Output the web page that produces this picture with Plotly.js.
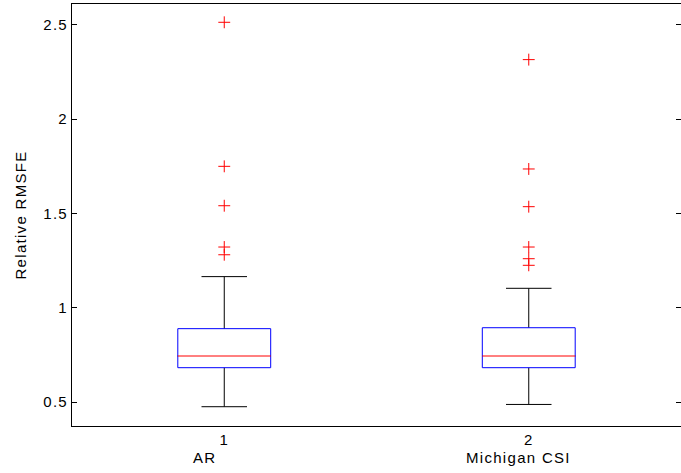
<!DOCTYPE html>
<html>
<head>
<meta charset="utf-8">
<script src="https://cdn.plot.ly/plotly-3.0.1.min.js"></script>
<style>
html,body{margin:0;padding:0;background:#fff;overflow:hidden}
#chart{width:681px;height:473px}
text{letter-spacing:1.3px}
</style>
</head>
<body>
<div id="chart"></div>
<script>
// ---- data ----
var positions = [1, 2];
var categories = ["AR", "Michigan CSI"];
var q1 = [0.682, 0.682];
var medians = [0.744, 0.744];
var q3 = [0.889, 0.894];
var lowerWhisker = [0.475, 0.487];
var upperWhisker = [1.165, 1.103];
var outliersAR = [2.514, 1.750, 1.541, 1.322, 1.281];
var outliersCSI = [2.316, 1.736, 1.536, 1.322, 1.260, 1.225];
var yTicks = [0.5, 1, 1.5, 2, 2.5];
var yTickText = ["0.5", "1", "1.5", "2", "2.5"];

// ---- style ----
var FONT = "Arial, 'Liberation Sans', sans-serif";
var FS = 15;
var BOXW = 0.305;
var labelShift = [-20, -10];

var outlierX = [], outlierY = [];
[outliersAR, outliersCSI].forEach(function (arr, i) {
  arr.forEach(function (v) { outlierX.push(positions[i]); outlierY.push(v); });
});

// box outlines and medians built from the quartile arrays
var boxX = [], boxY = [], medX = [], medY = [];
positions.forEach(function (p, i) {
  var a = p - BOXW / 2, b = p + BOXW / 2;
  boxX.push(a, b, b, a, a, null);
  boxY.push(q1[i], q1[i], q3[i], q3[i], q1[i], null);
  medX.push(a, b, null);
  medY.push(medians[i], medians[i], null);
});

var traces = [
  { // whiskers (black) - box collapsed at the median, body hidden under the blue box
    type: "box", x: positions, q1: medians, median: medians, q3: medians,
    lowerfence: lowerWhisker, upperfence: upperWhisker,
    width: BOXW, whiskerwidth: 0.49, boxpoints: false,
    line: { color: "#000000", width: 1 }, fillcolor: "rgba(0,0,0,0)",
    hoverinfo: "skip", showlegend: false
  },
  { // boxes (blue, white inside)
    type: "scatter", mode: "lines", x: boxX, y: boxY, fill: "toself",
    fillcolor: "#ffffff", line: { color: "#0000ff", width: 1 },
    hoverinfo: "skip", showlegend: false
  },
  { // medians (red)
    type: "scatter", mode: "lines", x: medX, y: medY,
    line: { color: "#ff0000", width: 1 }, hoverinfo: "skip", showlegend: false
  },
  { // outliers
    type: "scatter", mode: "markers", x: outlierX, y: outlierY,
    marker: { symbol: "cross-thin", size: 8.5, color: "#ff0000", line: { color: "#ff0000", width: 1 } },
    hoverinfo: "skip", showlegend: false
  },
  { // invisible trace for the right-hand ticks
    type: "scatter", mode: "markers", x: [positions[0]], y: [medians[0]], yaxis: "y2",
    marker: { opacity: 0 }, hoverinfo: "skip", showlegend: false
  }
];

var yRange = [0.3727, 2.611];

var annotations = categories.map(function (c, i) {
  return {
    text: c, x: positions[i], xref: "x", y: 0, yref: "paper",
    yanchor: "top", xanchor: "center", yshift: -21, xshift: labelShift[i],
    showarrow: false, font: { family: FONT, size: FS, color: "#000" }
  };
});

var layout = {
  width: 681, height: 473,
  margin: { l: 72, r: 0, t: 4, b: 47, pad: 0 },
  paper_bgcolor: "#fff", plot_bgcolor: "#fff",
  font: { family: FONT, size: FS, color: "#000" },
  xaxis: {
    range: [0.5, 2.5], tickvals: positions, ticktext: ["1", "2"],
    ticks: "", showgrid: false, zeroline: false,
    showline: true, mirror: true, linecolor: "#000", linewidth: 1,
    tickfont: { family: FONT, size: FS, color: "#000" }
  },
  yaxis: {
    range: yRange, tickvals: yTicks, ticktext: yTickText,
    ticks: "inside", ticklen: 5, tickcolor: "#000", tickwidth: 1,
    showgrid: false, zeroline: false,
    showline: true, mirror: false, linecolor: "#000", linewidth: 1,
    tickfont: { family: FONT, size: FS, color: "#000" },
    title: { text: "Relative RMSFE", font: { family: FONT, size: FS, color: "#000" }, standoff: 12 }
  },
  yaxis2: {
    overlaying: "y", side: "right", range: yRange, tickvals: yTicks,
    showticklabels: false, ticks: "inside", ticklen: 5, tickcolor: "#000", tickwidth: 1,
    showgrid: false, zeroline: false, showline: false
  },
  annotations: annotations,
  showlegend: false
};

Plotly.newPlot("chart", traces, layout, { staticPlot: true, displayModeBar: false });
</script>
</body>
</html>
